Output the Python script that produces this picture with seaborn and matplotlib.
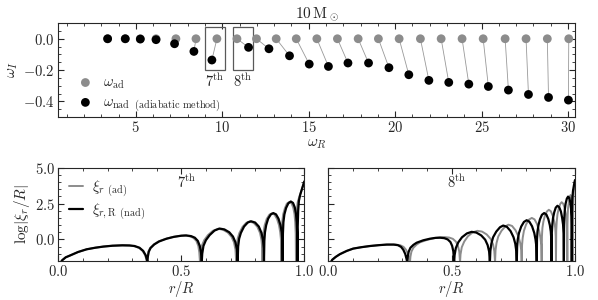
import numpy as np
import pandas as pd
import seaborn as sns
import matplotlib.pyplot as plt
from matplotlib.patches import Rectangle
from matplotlib.ticker import FuncFormatter, MultipleLocator

# --- top panel: complex frequencies of the radial modes ---
wr_ad = [3.37, 4.39, 5.26, 6.17, 7.32, 8.48, 9.69, 10.85, 11.98, 13.12, 14.28, 15.47,
         16.66, 17.86, 19.03, 20.23, 21.46, 22.66, 23.87, 25.09, 26.36, 27.57, 28.80, 30.04]
wi_ad = [0.0, 0.0, 0.0, 0.0, 0.0, 0.0, 0.0, 0.0, 0.0, 0.0, 0.0, 0.0,
         0.0, 0.0, 0.0, 0.0, 0.0, 0.0, 0.0, 0.0, 0.0, 0.0, 0.0, 0.0]
wr_nad = [3.37, 4.39, 5.26, 6.17, 7.24, 8.36, 9.40, 11.52, 12.70, 13.89, 15.03, 16.14,
          17.27, 18.46, 19.64, 20.79, 21.95, 23.10, 24.26, 25.39, 26.55, 27.71, 28.87, 30.02]
wi_nad = [0.0, 0.0, -0.002, -0.006, -0.032, -0.081, -0.136, -0.055, -0.064, -0.109, -0.162, -0.177,
          -0.155, -0.155, -0.185, -0.230, -0.266, -0.279, -0.290, -0.305, -0.328, -0.356, -0.375, -0.392]
mode_no = list(range(1, 25))

# --- bottom panels: log|xi_r/R| against r/R ---
r7_nad = [0.010, 0.016, 0.030, 0.048, 0.080, 0.115, 0.150, 0.183, 0.220, 0.260, 0.290, 0.310, 0.330, 0.345, 0.355, 0.360, 0.362,
          0.364, 0.368, 0.375, 0.390, 0.410, 0.440, 0.470, 0.500, 0.520, 0.540, 0.555, 0.567, 0.575, 0.580, 0.583,
          0.585, 0.590, 0.600, 0.615, 0.635, 0.655, 0.675, 0.695, 0.710, 0.720, 0.726, 0.729,
          0.731, 0.735, 0.742, 0.755, 0.770, 0.783, 0.800, 0.815, 0.826, 0.832, 0.835, 0.836,
          0.8375, 0.840, 0.845, 0.853, 0.864, 0.874, 0.885, 0.895, 0.903, 0.908, 0.9105, 0.912,
          0.913, 0.915, 0.919, 0.926, 0.935, 0.945, 0.954, 0.961, 0.966, 0.969, 0.971, 0.972,
          0.973, 0.975, 0.978, 0.983, 0.990, 1.000]
lg7_nad = [-1.6, -1.45, -1.25, -1.12, -0.88, -0.69, -0.58, -0.50, -0.44, -0.41, -0.42, -0.46, -0.58, -0.80, -1.10, -1.40, -1.6,
           -1.2, -0.85, -0.60, -0.35, -0.14, 0.05, 0.18, 0.26, 0.28, 0.23, 0.12, -0.10, -0.45, -0.90, -1.6,
           -1.0, -0.45, -0.05, 0.30, 0.62, 0.76, 0.70, 0.50, 0.20, -0.20, -0.70, -1.6,
           -0.5, 0.05, 0.45, 0.90, 1.18, 1.27, 1.18, 0.90, 0.45, -0.05, -0.60, -1.6,
           -0.1, 0.5, 1.0, 1.45, 1.75, 1.84, 1.75, 1.45, 1.0, 0.5, -0.1, -1.6,
           0.4, 1.2, 1.75, 2.2, 2.52, 2.65, 2.55, 2.25, 1.8, 1.2, 0.4, -1.6,
           0.8, 2.0, 2.7, 3.1, 3.5, 4.05]
r7_ad = [0.010, 0.016, 0.030, 0.048, 0.080, 0.115, 0.150, 0.183, 0.220, 0.260, 0.288, 0.308, 0.328, 0.343, 0.353, 0.358, 0.360,
         0.362, 0.366, 0.373, 0.388, 0.407, 0.436, 0.465, 0.494, 0.514, 0.534, 0.549, 0.561, 0.569, 0.573, 0.576,
         0.578, 0.583, 0.593, 0.608, 0.628, 0.649, 0.669, 0.689, 0.704, 0.714, 0.720, 0.723,
         0.725, 0.729, 0.736, 0.749, 0.764, 0.777, 0.794, 0.809, 0.820, 0.826, 0.829, 0.830,
         0.8315, 0.834, 0.839, 0.847, 0.858, 0.868, 0.879, 0.889, 0.897, 0.902, 0.9055, 0.907,
         0.908, 0.910, 0.914, 0.921, 0.929, 0.939, 0.948, 0.955, 0.960, 0.963, 0.965, 0.966,
         0.967, 0.969, 0.973, 0.980, 0.990, 1.000]
lg7_ad = [-1.6, -1.45, -1.25, -1.12, -0.88, -0.69, -0.58, -0.50, -0.44, -0.42, -0.43, -0.47, -0.59, -0.81, -1.10, -1.40, -1.6,
          -1.2, -0.85, -0.60, -0.35, -0.14, 0.04, 0.17, 0.25, 0.27, 0.22, 0.11, -0.10, -0.45, -0.90, -1.6,
          -1.0, -0.45, -0.05, 0.30, 0.60, 0.74, 0.68, 0.48, 0.18, -0.20, -0.70, -1.6,
          -0.5, 0.05, 0.45, 0.88, 1.16, 1.25, 1.16, 0.88, 0.45, -0.05, -0.60, -1.6,
          -0.1, 0.5, 1.0, 1.43, 1.73, 1.82, 1.73, 1.43, 1.0, 0.5, -0.1, -1.6,
          0.4, 1.2, 1.75, 2.18, 2.5, 2.62, 2.52, 2.22, 1.78, 1.2, 0.4, -1.6,
          0.8, 2.0, 2.6, 3.0, 3.5, 4.05]

r8_nad = [0.010, 0.016, 0.030, 0.047, 0.075, 0.101, 0.135, 0.169, 0.205, 0.237, 0.265, 0.282, 0.295, 0.304, 0.312, 0.317, 0.320,
          0.322, 0.326, 0.333, 0.345, 0.358, 0.385, 0.412, 0.435, 0.453, 0.470, 0.484, 0.495, 0.502, 0.507, 0.510,
          0.512, 0.517, 0.527, 0.542, 0.562, 0.581, 0.600, 0.620, 0.636, 0.646, 0.652, 0.655,
          0.657, 0.661, 0.668, 0.681, 0.696, 0.709, 0.724, 0.739, 0.751, 0.758, 0.762, 0.764,
          0.7655, 0.768, 0.773, 0.782, 0.793, 0.804, 0.815, 0.826, 0.835, 0.840, 0.8435, 0.845,
          0.846, 0.848, 0.852, 0.858, 0.866, 0.875, 0.884, 0.892, 0.898, 0.902, 0.904, 0.905,
          0.906, 0.908, 0.911, 0.916, 0.922, 0.929, 0.936, 0.943, 0.948, 0.952, 0.954, 0.955,
          0.9558, 0.957, 0.959, 0.962, 0.967, 0.972, 0.977, 0.981, 0.984, 0.986, 0.9866, 0.987,
          0.9878, 0.989, 0.992, 0.996, 1.000]
lg8_nad = [-1.6, -1.42, -1.22, -1.03, -0.80, -0.64, -0.54, -0.46, -0.40, -0.36, -0.36, -0.40, -0.52, -0.72, -1.02, -1.35, -1.6,
           -1.2, -0.85, -0.58, -0.38, -0.23, -0.06, 0.05, 0.11, 0.12, 0.09, 0.0, -0.18, -0.45, -0.85, -1.6,
           -1.1, -0.6, -0.2, 0.15, 0.42, 0.53, 0.48, 0.28, -0.02, -0.40, -0.85, -1.6,
           -0.8, -0.3, 0.15, 0.55, 0.85, 0.97, 0.88, 0.58, 0.15, -0.30, -0.80, -1.6,
           -0.5, 0.0, 0.45, 0.90, 1.22, 1.34, 1.24, 0.92, 0.45, 0.0, -0.5, -1.6,
           0.0, 0.55, 1.0, 1.4, 1.72, 1.84, 1.74, 1.42, 1.0, 0.55, 0.0, -1.6,
           0.4, 1.0, 1.5, 1.9, 2.22, 2.35, 2.25, 1.95, 1.5, 1.0, 0.4, -1.6,
           1.0, 1.6, 2.1, 2.5, 2.85, 2.99, 2.9, 2.6, 2.15, 1.6, 1.0, -1.6,
           1.8, 2.8, 3.4, 3.8, 4.14]
r8_ad = [0.010, 0.016, 0.030, 0.047, 0.075, 0.101, 0.135, 0.169, 0.205, 0.240, 0.272, 0.291, 0.305, 0.315, 0.323, 0.328, 0.331,
         0.333, 0.337, 0.345, 0.358, 0.372, 0.401, 0.430, 0.454, 0.472, 0.490, 0.505, 0.517, 0.525, 0.531, 0.534,
         0.536, 0.541, 0.551, 0.566, 0.585, 0.604, 0.623, 0.642, 0.658, 0.668, 0.673, 0.676,
         0.678, 0.682, 0.689, 0.702, 0.717, 0.730, 0.745, 0.759, 0.771, 0.778, 0.782, 0.784,
         0.7855, 0.788, 0.793, 0.802, 0.813, 0.825, 0.836, 0.846, 0.855, 0.860, 0.8635, 0.865,
         0.866, 0.868, 0.872, 0.878, 0.886, 0.894, 0.902, 0.910, 0.916, 0.920, 0.922, 0.923,
         0.924, 0.926, 0.929, 0.934, 0.940, 0.946, 0.952, 0.958, 0.963, 0.966, 0.968, 0.969,
         0.9696, 0.9705, 0.972, 0.975, 0.978, 0.982, 0.985, 0.988, 0.990, 0.991, 0.9915, 0.992,
         0.9925, 0.994, 0.996, 0.998, 1.000]
lg8_ad = [-1.6, -1.42, -1.22, -1.03, -0.80, -0.64, -0.54, -0.46, -0.40, -0.36, -0.36, -0.40, -0.52, -0.72, -1.02, -1.35, -1.6,
          -1.2, -0.85, -0.58, -0.36, -0.20, -0.03, 0.09, 0.15, 0.16, 0.13, 0.04, -0.15, -0.42, -0.85, -1.6,
          -1.05, -0.55, -0.15, 0.22, 0.49, 0.60, 0.55, 0.35, 0.04, -0.35, -0.82, -1.6,
          -0.75, -0.25, 0.2, 0.6, 0.9, 1.03, 0.94, 0.64, 0.2, -0.25, -0.75, -1.6,
          -0.4, 0.1, 0.6, 1.05, 1.38, 1.50, 1.40, 1.08, 0.6, 0.1, -0.4, -1.6,
          0.2, 0.8, 1.25, 1.65, 1.95, 2.07, 1.97, 1.65, 1.25, 0.8, 0.2, -1.6,
          0.6, 1.25, 1.75, 2.15, 2.47, 2.60, 2.5, 2.2, 1.75, 1.25, 0.6, -1.6,
          1.1, 1.7, 2.2, 2.6, 2.95, 3.10, 3.0, 2.7, 2.25, 1.7, 1.1, -1.6,
          2.0, 3.0, 3.5, 3.85, 4.14]

GREY = '#8c8c8c'

sns.set_style('ticks')
plt.rcParams['font.family'] = ['DejaVu Serif']
plt.rcParams['mathtext.fontset'] = 'cm'
plt.rcParams['axes.edgecolor'] = '0.15'
plt.rcParams['xtick.color'] = '0.15'
plt.rcParams['ytick.color'] = '0.15'


def style_ticks(ax):
    ax.tick_params(which='both', direction='in', top=True, right=True, labelsize=10.5, pad=2.5)
    ax.tick_params(which='major', length=4, width=0.8)
    ax.tick_params(which='minor', length=2, width=0.6)


fig = plt.figure(figsize=(5.98, 3.0), dpi=100)
ax_top = fig.add_axes([0.097, 0.61, 0.8645, 0.313])
ax_l = fig.add_axes([0.0975, 0.1303, 0.4114, 0.3103])
ax_r = fig.add_axes([0.549, 0.1303, 0.4125, 0.3103])

# top panel
pairs = pd.DataFrame({
    'mode': mode_no + mode_no,
    'wr': wr_ad + wr_nad,
    'wi': wi_ad + wi_nad,
})
sns.lineplot(data=pairs, x='wr', y='wi', units='mode', estimator=None, sort=False,
             color='0.6', lw=0.6, ax=ax_top)
sns.scatterplot(x=wr_ad, y=wi_ad, color=GREY, s=40, edgecolor='none',
                label=r'$\omega_{\rm ad}$', ax=ax_top, zorder=3)
sns.scatterplot(x=wr_nad, y=wi_nad, color='black', s=40, edgecolor='none',
                label=r'$\omega_{\rm nad}\ {}_{\rm (adiabatic\ method)}$', ax=ax_top, zorder=4)

for x0, x1, txt in [(9.0, 10.17, r'$7^{\rm th}$'), (10.6, 11.75, r'$8^{\rm th}$')]:
    ax_top.add_patch(Rectangle((x0, -0.2), x1 - x0, 0.275, fill=False, ec='0.35', lw=0.9))
    ax_top.text((x0 + x1) / 2, -0.275, txt, ha='center', va='center', fontsize=10.5)

ax_top.set_xlim(0.5, 30.4)
ax_top.set_ylim(-0.5, 0.1)
ax_top.xaxis.set_major_locator(MultipleLocator(5))
ax_top.xaxis.set_minor_locator(MultipleLocator(1))
ax_top.yaxis.set_major_locator(MultipleLocator(0.2))
ax_top.yaxis.set_minor_locator(MultipleLocator(0.05))
ax_top.xaxis.set_major_formatter(FuncFormatter(lambda v, p: rf'${v:.0f}$'))
ax_top.yaxis.set_major_formatter(FuncFormatter(lambda v, p: rf'${v:.1f}$'))
ax_top.set_xlabel(r'$\omega_R$', fontsize=11, labelpad=1)
ax_top.set_ylabel(r'$\omega_I$', fontsize=11, labelpad=2)
ax_top.set_title(r'$10\,{\rm M}_\odot$', fontsize=11, pad=3)
style_ticks(ax_top)
ax_top.legend(loc='lower left', bbox_to_anchor=(0.005, -0.075), frameon=False, fontsize=10.5,
              handletextpad=0.2, labelspacing=0.3, borderaxespad=0.3)

# bottom panels
for ax, r_ad, lg_ad, r_nad, lg_nad, txt in [
        (ax_l, r7_ad, lg7_ad, r7_nad, lg7_nad, r'$7^{\rm th}$'),
        (ax_r, r8_ad, lg8_ad, r8_nad, lg8_nad, r'$8^{\rm th}$')]:
    sns.lineplot(x=r_ad, y=lg_ad, sort=False, estimator=None, color=GREY, lw=1.4,
                 label=r'$\xi_r{}_{\rm\ (ad)}$', ax=ax)
    sns.lineplot(x=r_nad, y=lg_nad, sort=False, estimator=None, color='black', lw=1.6,
                 label=r'$\xi_{r,{\rm R}}{}_{\rm\ (nad)}$', ax=ax)
    ax.text(0.52, 4.0, txt, ha='center', va='center', fontsize=10.5)
    ax.set_xlim(0, 1)
    ax.set_ylim(-1.5, 5.0)
    ax.xaxis.set_major_locator(MultipleLocator(0.5))
    ax.xaxis.set_minor_locator(MultipleLocator(0.1))
    ax.yaxis.set_major_locator(MultipleLocator(2.5))
    ax.yaxis.set_minor_locator(MultipleLocator(0.5))
    ax.xaxis.set_major_formatter(FuncFormatter(lambda v, p: rf'${v:.1f}$'))
    ax.yaxis.set_major_formatter(FuncFormatter(lambda v, p: rf'${v:.1f}$'))
    style_ticks(ax)
    ax.tick_params(axis='x', pad=2)
    ax.set_xlabel(r'$r/R$', fontsize=10.5, labelpad=0)

ax_l.set_ylabel(r'$\log|\xi_r/R|$', fontsize=11, labelpad=2)
ax_l.legend(loc='upper left', frameon=False, fontsize=10.5, handlelength=1.0,
            handletextpad=0.6, labelspacing=0.15, borderaxespad=0.3)
ax_r.get_legend().remove()
ax_r.set_ylabel('')
ax_r.tick_params(labelleft=False)

fig.savefig('out.png', dpi=100)
